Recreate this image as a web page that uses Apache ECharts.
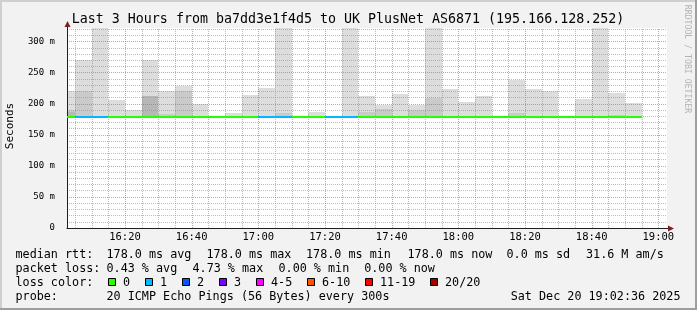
<!DOCTYPE html>
<html><head><meta charset="utf-8">
<script src="https://cdn.jsdelivr.net/npm/echarts@6/dist/echarts.min.js"></script>
<style>html,body{margin:0;padding:0;background:#f2f2f2}#c{width:697px;height:310px}</style>
</head><body><div id="c"></div>
<script>
// ---------------- data ----------------
const axisStart = '16:02:36';
const axisEnd = '19:02:36';
const binEnds = ['16:05','16:10','16:15','16:20','16:25','16:30','16:35','16:40','16:45','16:50','16:55','17:00',
  '17:05','17:10','17:15','17:20','17:25','17:30','17:35','17:40','17:45','17:50','17:55','18:00',
  '18:05','18:10','18:15','18:20','18:25','18:30','18:35','18:40','18:45','18:50','18:55'];
// ms; lowest ping, highest ping (p20), 19th and 18th sorted pings of each 5-minute bin
const pingLow  = [177,177,177,177,177,177,177,177,177,177,177,177,177,177,177,177,177,177,177,177,177,177,177,177,177,177,177,177,177,177,177,177,177,177,177];
const pingHigh = [221,271,400,206,190,270,220,229,200,179,185,214,225,400,180,187,179,400,212,198,215,198,400,223,203,212,180,239,224,220,178,208,400,218,201];
const ping19   = [190,220,179,179,179,213,183,221,179,178,179,180,180,185,179,179,178,180,187,192,179,190,210,180,179,179,178,185,179,179,178,179,180,182,179];
const ping18   = [186,179,178,178,178,212,179,179,178,178,178,178,178,179,178,178,178,178,179,179,178,179,179,178,178,178,178,179,178,178,178,178,178,179,178];
const medianRtt = [178,178,178,178,178,178,178,178,178,178,178,178,178,178,178,178,178,178,178,178,178,178,178,178,178,178,178,178,178,178,178,178,178,178,178];
const lossCount = [0,1,1,0,0,0,0,0,0,0,0,0,1,1,0,0,1,1,0,0,0,0,0,0,0,0,0,0,0,0,0,0,0,0,0];
const xTickLabels = ['16:20','16:40','17:00','17:20','17:40','18:00','18:20','18:40','19:00'];
const yMaxMs = 322;
const titleText = 'Last 3 Hours from ba7dd3e1f4d5 to UK PlusNet AS6871 (195.166.128.252)';
const rttStats = ['178.0 ms avg','178.0 ms max','178.0 ms min','178.0 ms now','0.0 ms sd','31.6 M am/s'];
const lossStats = ['0.43 % avg','4.73 % max','0.00 % min','0.00 % now'];
const lossLabels = ['0','1','2','3','4-5','6-10','11-19','20/20'];
const lossColors = ['#26ff00','#00b8ff','#0059ff','#7e00ff','#ff00ff','#ff5500','#ff0000','#a10000'];
const probeText = '20 ICMP Echo Pings (56 Bytes) every 300s';
const dateText = 'Sat Dec 20 19:02:36 2025';

// ---------------- helpers ----------------
function toMin(t){ const p = t.split(':').map(Number); return (p[0]-16)*60 + p[1] + (p[2]||0)/60; }
function fmt(v){ const m = Math.round(v); const h = 16 + Math.floor(m/60); const mm = m%60; return h + ':' + (mm<10?'0':'') + mm; }
const X_MIN = toMin(axisStart), X_MAX = toMin(axisEnd), STEP = 5;
const FONT = 'DejaVu Sans Mono';

function rectRender(color){
  return function(params, api){
    const end = api.value(0), lo = api.value(1), hi = Math.min(api.value(2), yMaxMs);
    if (!(hi > lo)) return {type:'group', children:[]};
    const start = Math.max(end - STEP, X_MIN);
    const a = api.coord([start, hi]), b = api.coord([end, lo]);
    const x0 = Math.round(a[0]), x1 = Math.round(b[0]), y0 = Math.round(a[1]), y1 = Math.round(b[1]);
    return {type:'rect', shape:{x:x0, y:y0, width:x1-x0, height:y1-y0}, style:{fill:color}};
  };
}
function medianRender(params, api){
  const end = api.value(0), v = api.value(1), loss = api.value(2);
  const start = Math.max(end - STEP, X_MIN);
  const a = api.coord([start, v]), b = api.coord([end, v]);
  const y = Math.round(a[1]);
  const x0 = Math.round(a[0]), x1 = Math.round(b[0]);
  return {type:'rect', shape:{x:x0, y:y-1, width:x1-x0, height:2}, style:{fill:lossColors[loss]}};
}
function vgridRender(params, api){
  const v = api.value(0);
  const a = api.coord([v, 0]), b = api.coord([v, yMaxMs]);
  const x = Math.round(a[0]) + 0.5;
  const major = Math.round(v) % 20 === 0;
  return {type:'line', shape:{x1:x, y1:Math.round(a[1]), x2:x, y2:Math.round(b[1])},
    style:{stroke: major ? 'rgba(222,79,79,0.6)' : 'rgba(143,143,143,0.6)', lineWidth:1, lineDash:[1,1]}};
}

const binX = binEnds.map(toMin);
const gridMinutes = [];
for (let m = 5; m <= 180; m += 5) if (m > X_MIN && m < X_MAX) gridMinutes.push(m);

const layer = (hiArr) => binX.map((x,i) => [x, pingLow[i], hiArr[i]]);

// ---------------- graphics ----------------
const g = [];
g.push({type:'rect', shape:{x:0,y:0,width:697,height:2}, style:{fill:'#cfcfcf'}, z:100});
g.push({type:'rect', shape:{x:0,y:0,width:2,height:310}, style:{fill:'#cfcfcf'}, z:100});
g.push({type:'rect', shape:{x:695,y:0,width:2,height:310}, style:{fill:'#9e9e9e'}, z:100});
g.push({type:'rect', shape:{x:0,y:308,width:697,height:2}, style:{fill:'#9e9e9e'}, z:100});
g.push({type:'line', shape:{x1:67.5,y1:28,x2:67.5,y2:24}, style:{stroke:'#1f1f1f',lineWidth:1}, z:100});
g.push({type:'polygon', shape:{points:[[64.5,27],[70.5,27],[67.5,21]]}, style:{fill:'#801f1f'}, z:100});
g.push({type:'line', shape:{x1:667,y1:228.5,x2:670,y2:228.5}, style:{stroke:'#1f1f1f',lineWidth:1}, z:100});
g.push({type:'polygon', shape:{points:[[668,225.5],[668,231.5],[674,228.5]]}, style:{fill:'#801f1f'}, z:100});
g.push({type:'text', x:348, y:20, style:{text:titleText, font:'13.3px "DejaVu Sans Mono"', fill:'#000', align:'center', verticalAlign:'middle'}, z:100});
g.push({type:'text', x:10, y:126, rotation:Math.PI/2, style:{text:'Seconds', font:'11px "DejaVu Sans Mono"', fill:'#000', align:'center', verticalAlign:'middle'}, z:100});
g.push({type:'text', x:687, y:59, rotation:-Math.PI/2, style:{text:'RRDTOOL / TOBI OETIKER', font:'8.2px "DejaVu Sans Mono"', fill:'#b4b4b4', align:'center', verticalAlign:'middle'}, z:100});
const LF = '11.75px "DejaVu Sans Mono"';
function lt(x, y, s, align){ g.push({type:'text', x:x, y:y, style:{text:s, font:LF, fill:'#000', align:align||'left', verticalAlign:'middle'}, z:100}); }
const rowY = [254.5, 268.5, 282.5, 296.5];
lt(15.5, rowY[0], 'median rtt:');
[106.5, 206.5, 306, 407.5, 506.5, 586].forEach((x,i)=>lt(x, rowY[0], rttStats[i]));
lt(15.5, rowY[1], 'packet loss:');
[106.5, 192.5, 278.5, 364.2].forEach((x,i)=>lt(x, rowY[1], lossStats[i]));
lt(15.5, rowY[2], 'loss color:');
[108.5, 145.5, 182.5, 219.5, 256.5, 307.5, 365.5, 430.5].forEach((x,i)=>{
  g.push({type:'rect', shape:{x:x, y:278.5, width:7, height:7}, style:{fill:lossColors[i], stroke:'#000', lineWidth:1}, z:100});
  lt(x + 14.5, rowY[2], lossLabels[i]);
});
lt(15.5, rowY[3], 'probe:');
lt(106.5, rowY[3], probeText);
lt(680.5, rowY[3], dateText, 'right');

// ---------------- chart ----------------
const chart = echarts.init(document.getElementById('c'), null, {renderer:'canvas'});
chart.setOption({
  animation:false,
  backgroundColor:'#f2f2f2',
  grid:{left:67, top:28, width:600, height:200, show:true, backgroundColor:'#ffffff', borderWidth:0},
  xAxis:{type:'value', min:X_MIN, max:X_MAX, z:6,
    axisLine:{show:true, onZero:false, lineStyle:{color:'#1f1f1f', width:1}},
    axisTick:{show:false},
    splitLine:{show:false},
    axisLabel:{customValues: xTickLabels.map(toMin), formatter: v => fmt(v), fontFamily:FONT, fontSize:10.5, color:'#000', margin:4}
  },
  yAxis:{type:'value', min:0, max:yMaxMs, interval:50, z:5,
    axisLine:{show:true, lineStyle:{color:'#1f1f1f', width:1}},
    axisTick:{show:false},
    axisLabel:{showMaxLabel:false, formatter: v => v === 0 ? '0' : v + ' m', fontFamily:FONT, fontSize:9, color:'#000', margin:12},
    splitLine:{show:true, showMinLine:false, showMaxLine:false, lineStyle:{color:'rgba(222,79,79,0.6)', type:[1,1], width:1}},
    minorTick:{show:false, splitNumber:5},
    minorSplitLine:{show:true, lineStyle:{color:'rgba(143,143,143,0.6)', type:[1,1], width:1}}
  },
  series:[
    {type:'custom', name:'smoke1', z:2, renderItem:rectRender('#dddddd'), data:layer(pingHigh), silent:true},
    {type:'custom', name:'smoke2', z:2, renderItem:rectRender('#cacaca'), data:layer(ping19), silent:true},
    {type:'custom', name:'smoke3', z:2, renderItem:rectRender('#b7b7b7'), data:layer(ping18), silent:true},
    {type:'custom', name:'vgrid', z:4, renderItem:vgridRender, data:gridMinutes.map(m=>[m]), silent:true},
    {type:'custom', name:'median', z:8, renderItem:medianRender, data:binX.map((x,i)=>[x, medianRtt[i], lossCount[i]]), silent:true}
  ],
  graphic:{elements:g}
});
</script></body></html>
